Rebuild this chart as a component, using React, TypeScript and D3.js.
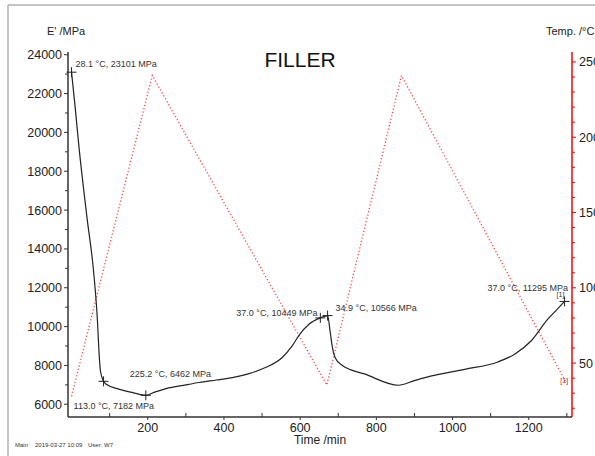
import React from "react";
import * as d3 from "d3";

const W = 595;
const H = 456;

// E' storage modulus (time /min, MPa)
const modulusTime = [0, 10, 20, 40, 60, 68, 72, 76, 84, 91, 126, 161, 195, 220, 248, 300, 335, 380, 422, 466, 509, 553, 579, 597, 623, 653, 672, 679, 684, 692, 710, 771, 858, 900, 945, 1032, 1119, 1163, 1206, 1250, 1275, 1294];
const modulusValues = [23101, 21200, 19150, 15700, 12400, 10300, 8700, 7700, 7182, 7030, 6770, 6600, 6462, 6640, 6810, 7000, 7120, 7250, 7375, 7580, 7890, 8410, 9010, 9550, 10120, 10449, 10566, 9700, 9010, 8400, 8010, 7550, 6980, 7220, 7460, 7800, 8180, 8580, 9260, 10380, 10900, 11295];

// Temperature programme (time /min, °C)
const tempTime = [0, 212, 670, 866, 1296];
const tempValues = [28, 241, 35.5, 241, 38];

const xTicks = [200, 400, 600, 800, 1000, 1200];
const yLeftTicks = [6000, 8000, 10000, 12000, 14000, 16000, 18000, 20000, 22000, 24000];
const yRightTicks = [50, 100, 150, 200, 250];

const annotations = [
  { t: 0, v: 23101, label: "28.1 °C, 23101 MPa", dx: 4, dy: -5 },
  { t: 84, v: 7182, label: "113.0 °C, 7182 MPa", dx: -30, dy: 28 },
  { t: 195, v: 6462, label: "225.2 °C, 6462 MPa", dx: -16, dy: -18 },
  { t: 653, v: 10449, label: "37.0 °C, 10449 MPa", dx: -84, dy: -1.5 },
  { t: 672, v: 10566, label: "34.9 °C, 10566 MPa", dx: 8, dy: -4.5 },
  { t: 1294, v: 11295, label: "37.0 °C, 11295 MPa", dx: -77, dy: -10 },
];

const left = 68;
const right = 572;
const top = 52;
const bottom = 417;

export default function App() {
  const x = d3.scaleLinear().domain([-9.3, 1313.5]).range([left, right]);
  const yL = d3.scaleLinear().domain([5345, 24140]).range([bottom, top]);
  const yR = d3.scaleLinear().domain([14.2, 256.6]).range([bottom, top]);

  const modLine = d3
    .line<number>()
    .x((_, i) => x(modulusTime[i]))
    .y((d) => yL(d))
    .curve(d3.curveMonotoneX)(modulusValues) as string;

  const tempLine = d3
    .line<number>()
    .x((_, i) => x(tempTime[i]))
    .y((d) => yR(d))(tempValues) as string;

  const xMinor = d3.range(100, 1301, 100).filter((v) => !xTicks.includes(v));
  const yLMinor = d3.range(7000, 24000, 2000);
  const yRMinor = d3.range(20, 251, 10).filter((v) => v % 50 !== 0);

  const font = "'Liberation Sans', Arial, sans-serif";
  const lastT = tempTime[tempTime.length - 1];
  const lastV = tempValues[tempValues.length - 1];

  return (
    <svg width={W} height={H} style={{ position: "absolute", left: 0, top: 0, background: "#fff" }} fontFamily={font}>
      {/* frame */}
      <line x1={8} y1={5} x2={W} y2={5} stroke="#b0b0b0" strokeWidth={1.5} />
      <line x1={8} y1={5} x2={8} y2={H} stroke="#b0b0b0" strokeWidth={1.5} />

      {/* title */}
      <text x={300} y={67} textAnchor="middle" fontSize={21} fill="#111">FILLER</text>
      <text x={47} y={35} fontSize={11} fill="#222">E' /MPa</text>
      <text x={546} y={35} fontSize={11} fill="#222">Temp. /°C</text>
      <text x={320} y={444} textAnchor="middle" fontSize={12} fill="#222">Time /min</text>

      {/* left axis */}
      <line x1={left} y1={top} x2={left} y2={bottom} stroke="#333" strokeWidth={1.5} />
      {yLeftTicks.map((v) => (
        <g key={"yl" + v}>
          <line x1={left - 4} x2={left} y1={yL(v)} y2={yL(v)} stroke="#333" />
          <text x={62} y={yL(v) + 4.5} textAnchor="end" fontSize={12.5} fill="#222">{v}</text>
        </g>
      ))}
      {yLMinor.map((v) => (
        <line key={"ylm" + v} x1={left - 3} x2={left} y1={yL(v)} y2={yL(v)} stroke="#333" />
      ))}

      {/* bottom axis */}
      <line x1={left} y1={bottom} x2={right} y2={bottom} stroke="#333" strokeWidth={1.5} />
      {xTicks.map((v) => (
        <g key={"x" + v}>
          <line x1={x(v)} x2={x(v)} y1={bottom} y2={bottom + 3} stroke="#333" />
          <text x={x(v)} y={432} textAnchor="middle" fontSize={12.5} fill="#222">{v}</text>
        </g>
      ))}
      {xMinor.map((v) => (
        <line key={"xm" + v} x1={x(v)} x2={x(v)} y1={bottom} y2={bottom - 4} stroke="#333" />
      ))}

      {/* right axis */}
      <line x1={right} y1={top} x2={right} y2={bottom} stroke="#ff0000" strokeWidth={1.5} />
      {yRightTicks.map((v) => (
        <g key={"yr" + v}>
          <line x1={right} x2={right + 4} y1={yR(v)} y2={yR(v)} stroke="#ff0000" />
          <text x={579} y={yR(v) + 4.5} fontSize={12.5} fill="#222">{v}</text>
        </g>
      ))}
      {yRMinor.map((v) => (
        <line key={"yrm" + v} x1={right} x2={right + 3} y1={yR(v)} y2={yR(v)} stroke="#ff0000" />
      ))}

      {/* temperature curve */}
      <path d={tempLine} fill="none" stroke="#ff2a2a" strokeWidth={1.3} strokeDasharray="1.2 2.2" opacity={0.9} />
      <text x={x(lastT) - 5} y={yR(lastV) + 2} fontSize={7} fill="#e00">[1]</text>

      {/* modulus curve */}
      <path d={modLine} fill="none" stroke="#222" strokeWidth={1.2} />
      <text x={x(1294) - 8} y={yL(11295) - 4} fontSize={7} fill="#333">[1]</text>

      {/* annotations */}
      {annotations.map((a, i) => {
        const px = x(a.t);
        const py = yL(a.v);
        return (
          <g key={"a" + i}>
            <line x1={px - 5} x2={px + 5} y1={py} y2={py} stroke="#222" strokeWidth={1} />
            <line x1={px} x2={px} y1={py - 5} y2={py + 5} stroke="#222" strokeWidth={1} />
            <text x={px + a.dx} y={py + a.dy} fontSize={9} fill="#333">{a.label}</text>
          </g>
        );
      })}

      {/* footer */}
      <text x={15} y={447} fontSize={6} fill="#333">Main</text>
      <text x={35} y={447} fontSize={6} fill="#333">2019-03-27 10:09</text>
      <text x={88} y={447} fontSize={6} fill="#333">User: W7</text>
    </svg>
  );
}
